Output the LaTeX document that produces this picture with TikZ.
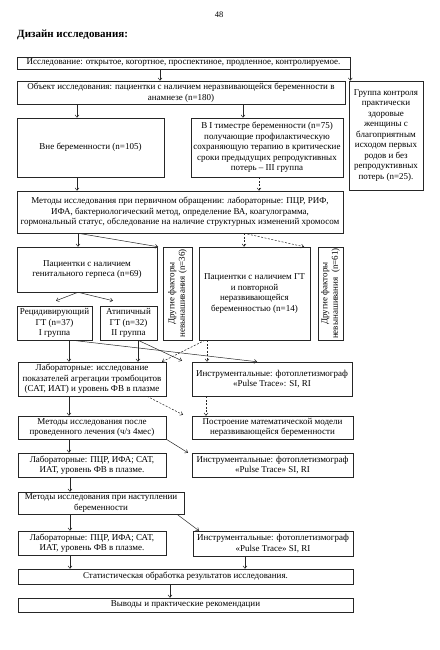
\documentclass[tikz,border=0pt]{standalone}
\usepackage{fontspec}
\setmainfont{Liberation Serif}
\usetikzlibrary{arrows.meta}
\tikzset{
  blk/.style={draw=black!85, line width=0.5pt, inner sep=1pt, align=center,
    font=\fontsize{9}{10.5}\selectfont},
  arr/.style={line width=0.5pt, draw=black!85, -{Straight Barb[length=2.5pt,width=4pt]}},
  darr/.style={arr, dash pattern=on 2pt off 1.5pt}
}
\newcommand\blk[6]{
  \node[blk, minimum width={#4-#2}, minimum height={#5-#3}] (#1) at ({(#2+#4)/2}, {(#3+#5)/2}) {#6};
}
\newcommand\vblk[6]{
  \node[blk, minimum width={#4-#2}, minimum height={#5-#3}] (#1) at ({(#2+#4)/2}, {(#3+#5)/2}) {};
  \node[rotate=90, align=center, inner sep=0pt, font=\fontsize{9}{10.5}\selectfont] (#1-t) at (#1.center) {#6};
}

\begin{document}
\begin{tikzpicture}[x=1pt, y=-1pt]
  \useasboundingbox (0,0) rectangle (439,650);

  \node[font=\fontsize{8.5}{10}\selectfont] (pnum) at (219,15) {48};
  \node[anchor=west, inner sep=0pt, font=\bfseries\fontsize{11}{13}\selectfont] (ttl) at (17,35) {Дизайн исследования:};

  \blk{b1}{17}{57}{350}{69}{Исследование: открытое, когортное, проспектиное, продленное, контролируемое.}
  \blk{b2}{17}{81}{345}{104}{Объект исследования: пациентки с наличием неразвивающейся беременности в\\анамнезе (n=180)}
  \blk{bctrl}{349}{81}{423}{190}{Группа контроля\\практически\\здоровые\\женщины с\\благоприятным\\исходом первых\\родов и без\\репродуктивных\\потерь (n=25).}
  \blk{b3}{17}{118}{164}{177}{Вне беременности (n=105)}
  \blk{b4}{191}{118}{343}{177}{В I тиместре беременности (n=75)\\получающие профилактическую\\сохраняющую терапию в критические\\сроки предыдущих репродуктивных\\потерь – III группа}
  \blk{b5}{17}{191}{343}{233}{Методы исследования при первичном обращении: лабораторные: ПЦР, РИФ,\\ИФА, бактериологический метод, определение ВА, коагулограмма,\\гормональный статус, обследование на наличие структурных изменений хромосом}
  \blk{b6}{17}{247}{157}{292}{Пациентки с наличием\\генитального герпеса (n=69)}
  \vblk{bo36}{163}{247}{192}{340}{Другие факторы\\невынашивания (n=36)}
  \blk{b7}{199}{247}{310}{340}{Пациентки с наличием ГТ\\и повторной\\неразвивающейся\\беременностью (n=14)}
  \vblk{bo61}{318}{247}{343}{340}{Другие факторы\\невынашивания~ (n=61)}
  \blk{b8}{17}{306}{92}{340}{Рецидивирующий\\ГТ (n=37)\\I группа}
  \blk{b9}{100}{306}{157}{340}{Атипичный\\ГТ (n=32)\\II группа}
  \blk{b10}{18}{362}{166}{396}{Лабораторные: исследование\\показателей агрегации тромбоцитов\\(САТ, ИАТ) и уровень ФВ в плазме}
  \blk{b11}{192}{362}{352}{396}{Инструментальные: фотоплетизмограф\\«Pulse Trace»: SI, RI}
  \blk{b12}{18}{416}{166}{439}{Методы исследования после\\проведенного лечения (ч/з 4мес)}
  \blk{b13}{192}{416}{353}{439}{Построение математической модели\\неразвивающейся беременности}
  \blk{b14}{18}{453}{166}{477}{Лабораторные: ПЦР, ИФА; САТ,\\ИАТ, уровень ФВ в плазме.}
  \blk{b15}{192}{453}{353}{477}{Инструментальные: фотоплетизмограф\\«Pulse Trace» SI, RI}
  \blk{b16}{18}{492}{184}{514}{Методы исследования при наступлении\\беременности}
  \blk{b17}{18}{531}{166}{555}{Лабораторные: ПЦР, ИФА; САТ,\\ИАТ, уровень ФВ в плазме.}
  \blk{b18}{193}{531}{353}{556}{Инструментальные: фотоплетизмограф\\«Pulse Trace» SI, RI}
  \blk{b19}{18}{569}{353}{584}{Статистическая обработка результатов исследования.}
  \blk{b20}{18}{598}{353}{612}{Выводы и практические рекомендации}

  \draw[arr] (b1.south -| 160,0) -- (b2.north -| 160,0);
  \draw[arr] (b1.south east) -- (b1.south east |- bctrl.north);
  \draw[arr] (b2.south -| 77,0) -- (b3.north -| 77,0);
  \draw[arr] (b2.south -| 243,0) -- (b4.north -| 243,0);
  \draw[arr] (b3.south -| 77,0) -- (b5.north -| 77,0);
  \draw[darr] (b4.south -| 259,0) -- (b5.north -| 259,0);
  \draw[arr] (b5.south -| 78,0) -- (b6.north -| 78,0);
  \draw[arr] (b5.south -| 78,0) -- (bo36.north -| 158,0);
  \draw[darr] (b5.south -| 244,0) -- (b7.north -| 244,0);
  \draw[darr] (b5.south -| 244,0) -- (b7.north -| 304,0);
  \draw[arr] (b6.south -| 78,0) -- ([yshift=5pt]b8.north -| 56,0);
  \draw[arr] (b6.south -| 78,0) -- ([yshift=5pt]b9.north -| 113,0);
  \draw[arr] (b8.south -| 69,0) -- (b10.north -| 69,0);
  \draw[arr] (b8.south -| 72,0) -- (b11.north -| 257,0);
  \draw[arr] (b9.south -| 138,0) -- (b10.north -| 138,0);
  \draw[arr] (b9.south -| 138,0) -- ([yshift=1pt]b11.north -| 182,0);
  \draw[darr] (b7.south -| 205,0) -- (b10.north -| 162,0);
  \draw[darr] (b7.south -| 207,0) -- (b11.north -| 207,0);
  \draw[arr] (b10.south -| 69,0) -- (b12.north -| 69,0);
  \draw[darr] (b10.south -| 147,0) -- ([yshift=1pt]b13.north -| 183,0);
  \draw[darr] (b11.south -| 206,0) -- (b13.north -| 206,0);
  \draw[arr] (b12.south -| 69,0) -- (b14.north -| 69,0);
  \draw[arr] (b12.south east) -- (b15.north -| 188,0);
  \draw[arr] (b14.south -| 70,0) -- (b16.north -| 70,0);
  \draw[arr] (b16.south -| 70,0) -- (b17.north -| 70,0);
  \draw[arr] (b16.south -| 177,0) -- (b18.north -| 199,0);
  \draw[arr] (b17.south -| 70,0) -- (b19.north -| 70,0);
  \draw[arr] (b18.south -| 245,0) -- (b19.north -| 245,0);
  \draw[arr] (b19.south -| 170,0) -- (b20.north -| 170,0);
\end{tikzpicture}
\end{document}
